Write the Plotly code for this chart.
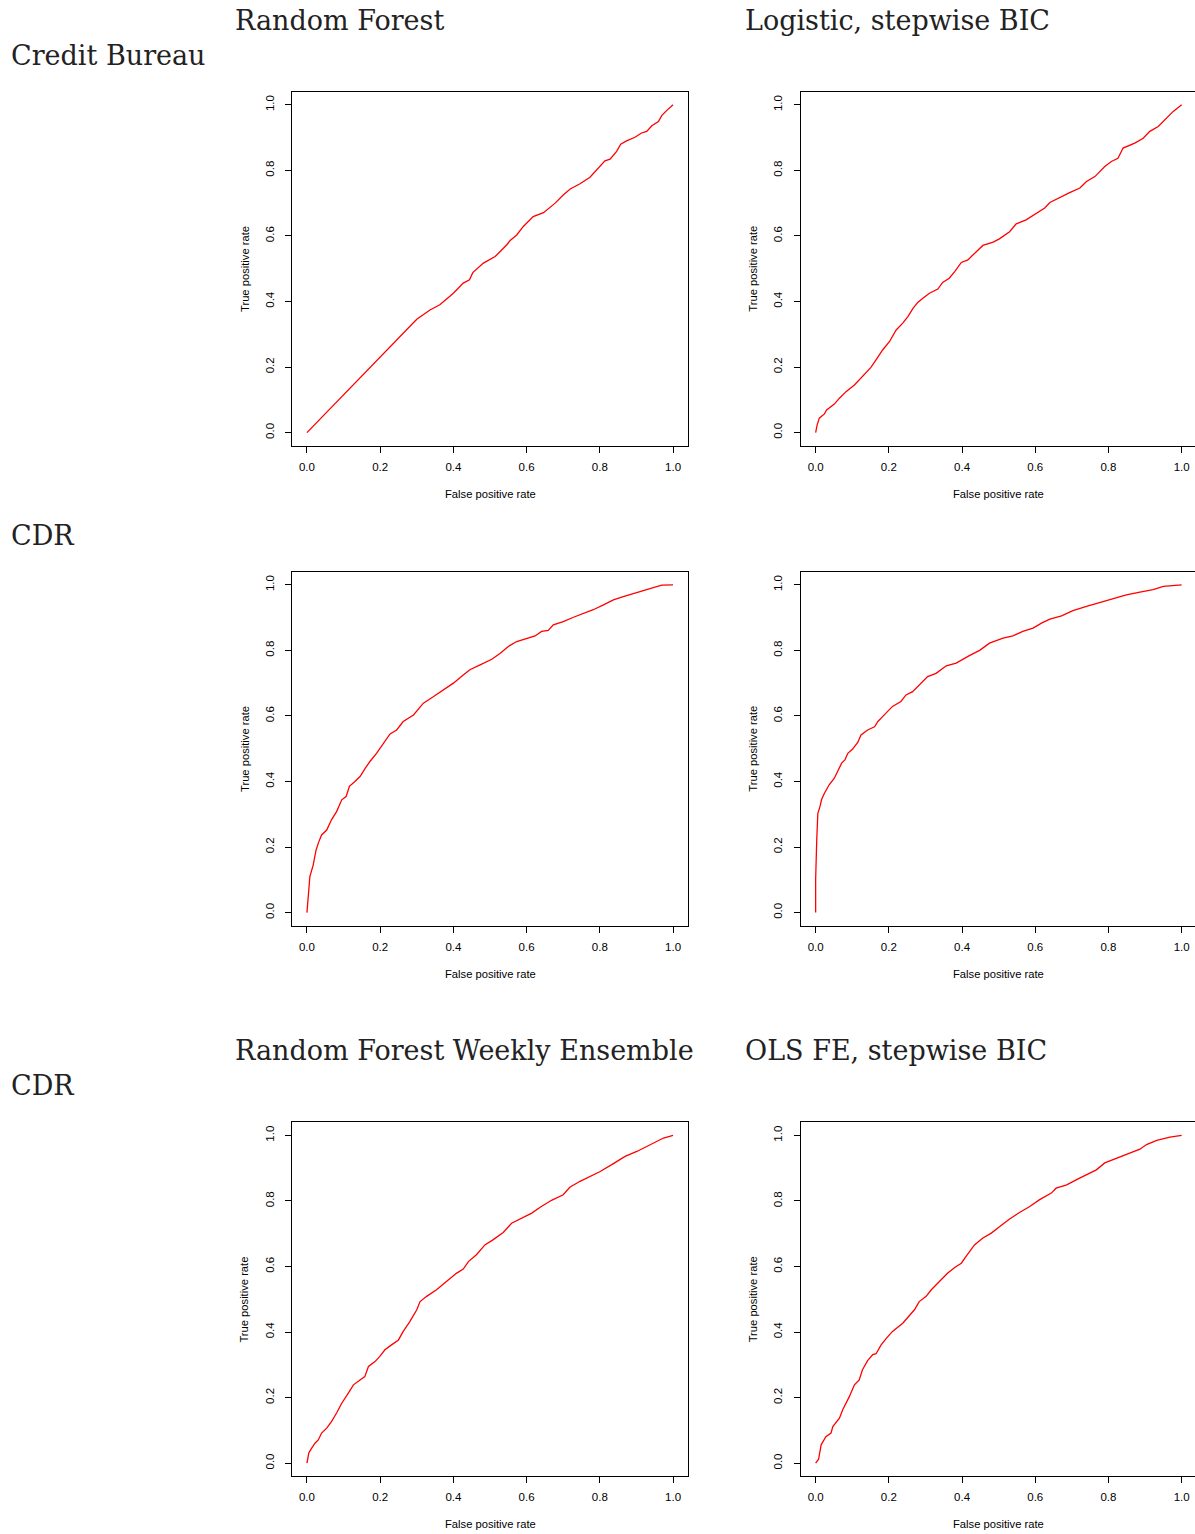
import plotly.graph_objects as go

# ---------------- data ----------------
rf_cb_fpr = [0, 0.30, 0.336, 0.363, 0.40, 0.427, 0.444, 0.453, 0.482, 0.514, 0.546, 0.555, 0.573, 0.591,
             0.618, 0.646, 0.678, 0.700, 0.719, 0.746, 0.773, 0.791, 0.814, 0.828, 0.846, 0.857, 0.873,
             0.896, 0.914, 0.928, 0.942, 0.960, 0.969, 0.983, 1.0]
rf_cb_tpr = [0, 0.346, 0.374, 0.39, 0.425, 0.456, 0.466, 0.488, 0.517, 0.537, 0.573, 0.586, 0.603, 0.629,
             0.659, 0.671, 0.700, 0.725, 0.743, 0.759, 0.779, 0.802, 0.829, 0.834, 0.858, 0.880, 0.890,
             0.901, 0.914, 0.919, 0.936, 0.949, 0.967, 0.983, 1.0]

lg_cb_fpr = [0, 0.004, 0.010, 0.024, 0.030, 0.051, 0.065, 0.083, 0.106, 0.129, 0.151, 0.165, 0.183, 0.202,
             0.220, 0.238, 0.252, 0.266, 0.279, 0.293, 0.311, 0.334, 0.347, 0.365, 0.380, 0.398, 0.416,
             0.439, 0.457, 0.485, 0.502, 0.530, 0.548, 0.575, 0.608, 0.626, 0.640, 0.667, 0.694, 0.722,
             0.740, 0.763, 0.790, 0.808, 0.826, 0.840, 0.872, 0.895, 0.913, 0.936, 0.959, 0.977, 1.0]
lg_cb_tpr = [0, 0.023, 0.044, 0.057, 0.069, 0.087, 0.105, 0.125, 0.145, 0.171, 0.199, 0.222, 0.252, 0.278,
             0.313, 0.334, 0.354, 0.379, 0.397, 0.410, 0.425, 0.438, 0.458, 0.471, 0.491, 0.519, 0.527,
             0.552, 0.571, 0.581, 0.591, 0.613, 0.637, 0.649, 0.671, 0.685, 0.702, 0.718, 0.732, 0.746,
             0.766, 0.781, 0.812, 0.827, 0.837, 0.868, 0.883, 0.898, 0.919, 0.934, 0.959, 0.980, 1.0]

rf_cdr_fpr = [0, 0.004, 0.008, 0.017, 0.025, 0.031, 0.040, 0.054, 0.067, 0.081, 0.095, 0.107, 0.116, 0.131,
              0.145, 0.159, 0.172, 0.190, 0.209, 0.227, 0.245, 0.263, 0.291, 0.318, 0.346, 0.373, 0.400,
              0.427, 0.445, 0.473, 0.505, 0.528, 0.550, 0.573, 0.600, 0.623, 0.641, 0.659, 0.673, 0.700,
              0.728, 0.755, 0.782, 0.810, 0.837, 0.864, 0.891, 0.919, 0.946, 0.969, 1.0]
rf_cdr_tpr = [0, 0.074, 0.110, 0.145, 0.191, 0.212, 0.237, 0.252, 0.283, 0.308, 0.344, 0.354, 0.385, 0.400,
              0.415, 0.440, 0.461, 0.486, 0.517, 0.545, 0.557, 0.583, 0.603, 0.639, 0.659, 0.680, 0.700,
              0.725, 0.741, 0.756, 0.773, 0.791, 0.812, 0.827, 0.837, 0.844, 0.858, 0.861, 0.878, 0.888,
              0.901, 0.912, 0.924, 0.939, 0.954, 0.964, 0.973, 0.980, 0.990, 0.999, 1.0]

lg_cdr_fpr = [0, 0, 0.003, 0.004, 0.006, 0.012, 0.016, 0.024, 0.037, 0.051, 0.063, 0.071, 0.080, 0.088,
              0.101, 0.115, 0.124, 0.142, 0.161, 0.170, 0.183, 0.197, 0.210, 0.233, 0.247, 0.265, 0.279,
              0.292, 0.306, 0.329, 0.343, 0.357, 0.384, 0.402, 0.420, 0.448, 0.475, 0.512, 0.539, 0.566,
              0.594, 0.617, 0.640, 0.672, 0.703, 0.740, 0.776, 0.813, 0.849, 0.886, 0.922, 0.950, 1.0]
lg_cdr_tpr = [0, 0.10, 0.222, 0.283, 0.303, 0.324, 0.344, 0.364, 0.390, 0.410, 0.435, 0.456, 0.466, 0.486,
              0.499, 0.519, 0.542, 0.557, 0.567, 0.583, 0.598, 0.613, 0.629, 0.644, 0.664, 0.674, 0.690,
              0.705, 0.720, 0.730, 0.741, 0.753, 0.761, 0.773, 0.784, 0.800, 0.822, 0.837, 0.844, 0.858,
              0.868, 0.883, 0.895, 0.905, 0.921, 0.934, 0.946, 0.956, 0.969, 0.978, 0.985, 0.995, 1.0]

rfw_cdr_fpr = [0, 0.005, 0.013, 0.022, 0.031, 0.040, 0.054, 0.067, 0.081, 0.095, 0.113, 0.127, 0.145, 0.158,
               0.168, 0.186, 0.199, 0.213, 0.231, 0.250, 0.263, 0.281, 0.300, 0.309, 0.327, 0.354, 0.381,
               0.409, 0.427, 0.441, 0.463, 0.486, 0.509, 0.536, 0.559, 0.591, 0.614, 0.637, 0.668, 0.700,
               0.718, 0.746, 0.778, 0.801, 0.837, 0.869, 0.901, 0.937, 0.974, 1.0]
rfw_cdr_tpr = [0, 0.031, 0.046, 0.061, 0.071, 0.092, 0.107, 0.127, 0.153, 0.183, 0.214, 0.239, 0.254, 0.264,
               0.295, 0.310, 0.326, 0.346, 0.361, 0.376, 0.402, 0.432, 0.468, 0.493, 0.509, 0.529, 0.554,
               0.580, 0.592, 0.615, 0.636, 0.666, 0.682, 0.704, 0.732, 0.751, 0.763, 0.781, 0.802, 0.819,
               0.842, 0.860, 0.877, 0.890, 0.914, 0.936, 0.951, 0.972, 0.992, 1.0]

ols_cdr_fpr = [0, 0.008, 0.015, 0.024, 0.028, 0.042, 0.047, 0.065, 0.074, 0.092, 0.106, 0.119, 0.128, 0.142,
               0.156, 0.165, 0.179, 0.193, 0.210, 0.238, 0.255, 0.270, 0.283, 0.302, 0.316, 0.338, 0.361,
               0.380, 0.398, 0.411, 0.434, 0.457, 0.480, 0.503, 0.530, 0.557, 0.585, 0.612, 0.644, 0.657,
               0.686, 0.713, 0.740, 0.767, 0.790, 0.818, 0.840, 0.868, 0.886, 0.904, 0.932, 0.968, 1.0]
ols_cdr_tpr = [0, 0.012, 0.056, 0.071, 0.081, 0.092, 0.112, 0.137, 0.163, 0.203, 0.239, 0.254, 0.285, 0.313,
               0.331, 0.334, 0.361, 0.381, 0.402, 0.427, 0.448, 0.468, 0.493, 0.509, 0.529, 0.554, 0.580,
               0.597, 0.610, 0.631, 0.666, 0.687, 0.702, 0.722, 0.745, 0.765, 0.783, 0.804, 0.824, 0.839,
               0.849, 0.865, 0.880, 0.895, 0.916, 0.928, 0.938, 0.948, 0.958, 0.972, 0.985, 0.995, 1.0]

tick_vals = [0, 0.2, 0.4, 0.6, 0.8, 1.0]
tick_text = ["0.0", "0.2", "0.4", "0.6", "0.8", "1.0"]

col_titles_top = ["Random Forest", "Logistic, stepwise BIC"]
col_titles_bottom = ["Random Forest Weekly Ensemble", "OLS FE, stepwise BIC"]
row_labels = ["Credit Bureau", "CDR", "CDR"]
x_title = "False positive rate"
y_title = "True positive rate"

# ---------------- layout geometry ----------------
W, H = 1195, 1534
def px_x(v):
    return v / W
def px_y(v):
    return 1 - v / H

col_px = [(292.3, 687.7), (801.0, 1195.0)]
col_dom = [[px_x(a), min(1.0, px_x(b))] for a, b in col_px]
row_px = [(91.7, 445.7), (571.7, 925.7), (1122.3, 1476.3)]
row_dom = [[px_y(b), px_y(t)] for t, b in row_px]
unit = 366.0
x_ranges = [[-0.04, 1.04], [-0.04, -0.04 + (1195.0 - 801.0) / unit]]

panels = [
    (0, 0, rf_cb_fpr, rf_cb_tpr),
    (0, 1, lg_cb_fpr, lg_cb_tpr),
    (1, 0, rf_cdr_fpr, rf_cdr_tpr),
    (1, 1, lg_cdr_fpr, lg_cdr_tpr),
    (2, 0, rfw_cdr_fpr, rfw_cdr_tpr),
    (2, 1, ols_cdr_fpr, ols_cdr_tpr),
]

fig = go.Figure()
tick_font = dict(family="Liberation Sans, Arial, sans-serif", size=11.5, color="black")
lab_font = dict(family="Liberation Sans, Arial, sans-serif", size=11.2, color="black")
serif = dict(family="DejaVu Serif, serif", size=27, color="#222222")

annotations = []
for i, (r, c, xs, ys) in enumerate(panels):
    n = "" if i == 0 else str(i + 1)
    fig.add_trace(go.Scatter(x=xs, y=ys, mode="lines", line=dict(color="red", width=1.3),
                             xaxis="x" + n, yaxis="y" + n, showlegend=False, hoverinfo="skip"))
    fig.layout["xaxis" + n] = dict(
        domain=col_dom[c], range=x_ranges[c], anchor="y" + n,
        tickvals=tick_vals, ticktext=tick_text, ticks="outside", ticklen=6, tickwidth=1,
        tickcolor="black", showline=True, linecolor="black", linewidth=1, mirror=True,
        showgrid=False, zeroline=False, tickfont=tick_font, fixedrange=True,
        ticklabelstandoff=4)
    fig.layout["yaxis" + n] = dict(
        domain=row_dom[r], range=[-0.04, 1.04], anchor="x" + n,
        tickvals=tick_vals, ticktext=tick_text, ticks="outside", ticklen=6, tickwidth=1,
        tickcolor="black", showline=True, linecolor="black", linewidth=1, mirror=(c == 0),
        showgrid=False, zeroline=False, tickfont=tick_font, tickangle=-90, fixedrange=True,
        ticklabelstandoff=7)
    # axis titles
    t, b = row_px[r]
    left = col_px[c][0]
    xc = left + 395.5 / 2
    annotations.append(dict(text=x_title, x=px_x(xc), y=px_y(b + 48), xref="paper", yref="paper",
                            xanchor="center", yanchor="middle", showarrow=False, font=lab_font))
    annotations.append(dict(text=y_title, x=px_x(left - 48), y=px_y((t + b) / 2),
                            xref="paper", yref="paper", xanchor="center", yanchor="middle",
                            showarrow=False, font=lab_font, textangle=-90))

# titles
title_pos = [(col_titles_top[0], 233, 20), (col_titles_top[1], 743, 20),
             (col_titles_bottom[0], 233, 1050), (col_titles_bottom[1], 743, 1050),
             (row_labels[0], 9, 55), (row_labels[1], 9, 535), (row_labels[2], 9, 1085)]
for txt, px, py in title_pos:
    annotations.append(dict(text=txt, x=px_x(px), y=px_y(py), xref="paper", yref="paper",
                            xanchor="left", yanchor="middle", showarrow=False, font=serif))

fig.update_layout(width=W, height=H, margin=dict(l=0, r=0, t=0, b=0),
                  paper_bgcolor="white", plot_bgcolor="white", annotations=annotations,
                  showlegend=False)
fig.write_html("out.html", config={"displayModeBar": False, "staticPlot": True},
               post_script="document.body.style.margin='0';document.body.style.overflow='hidden';")
